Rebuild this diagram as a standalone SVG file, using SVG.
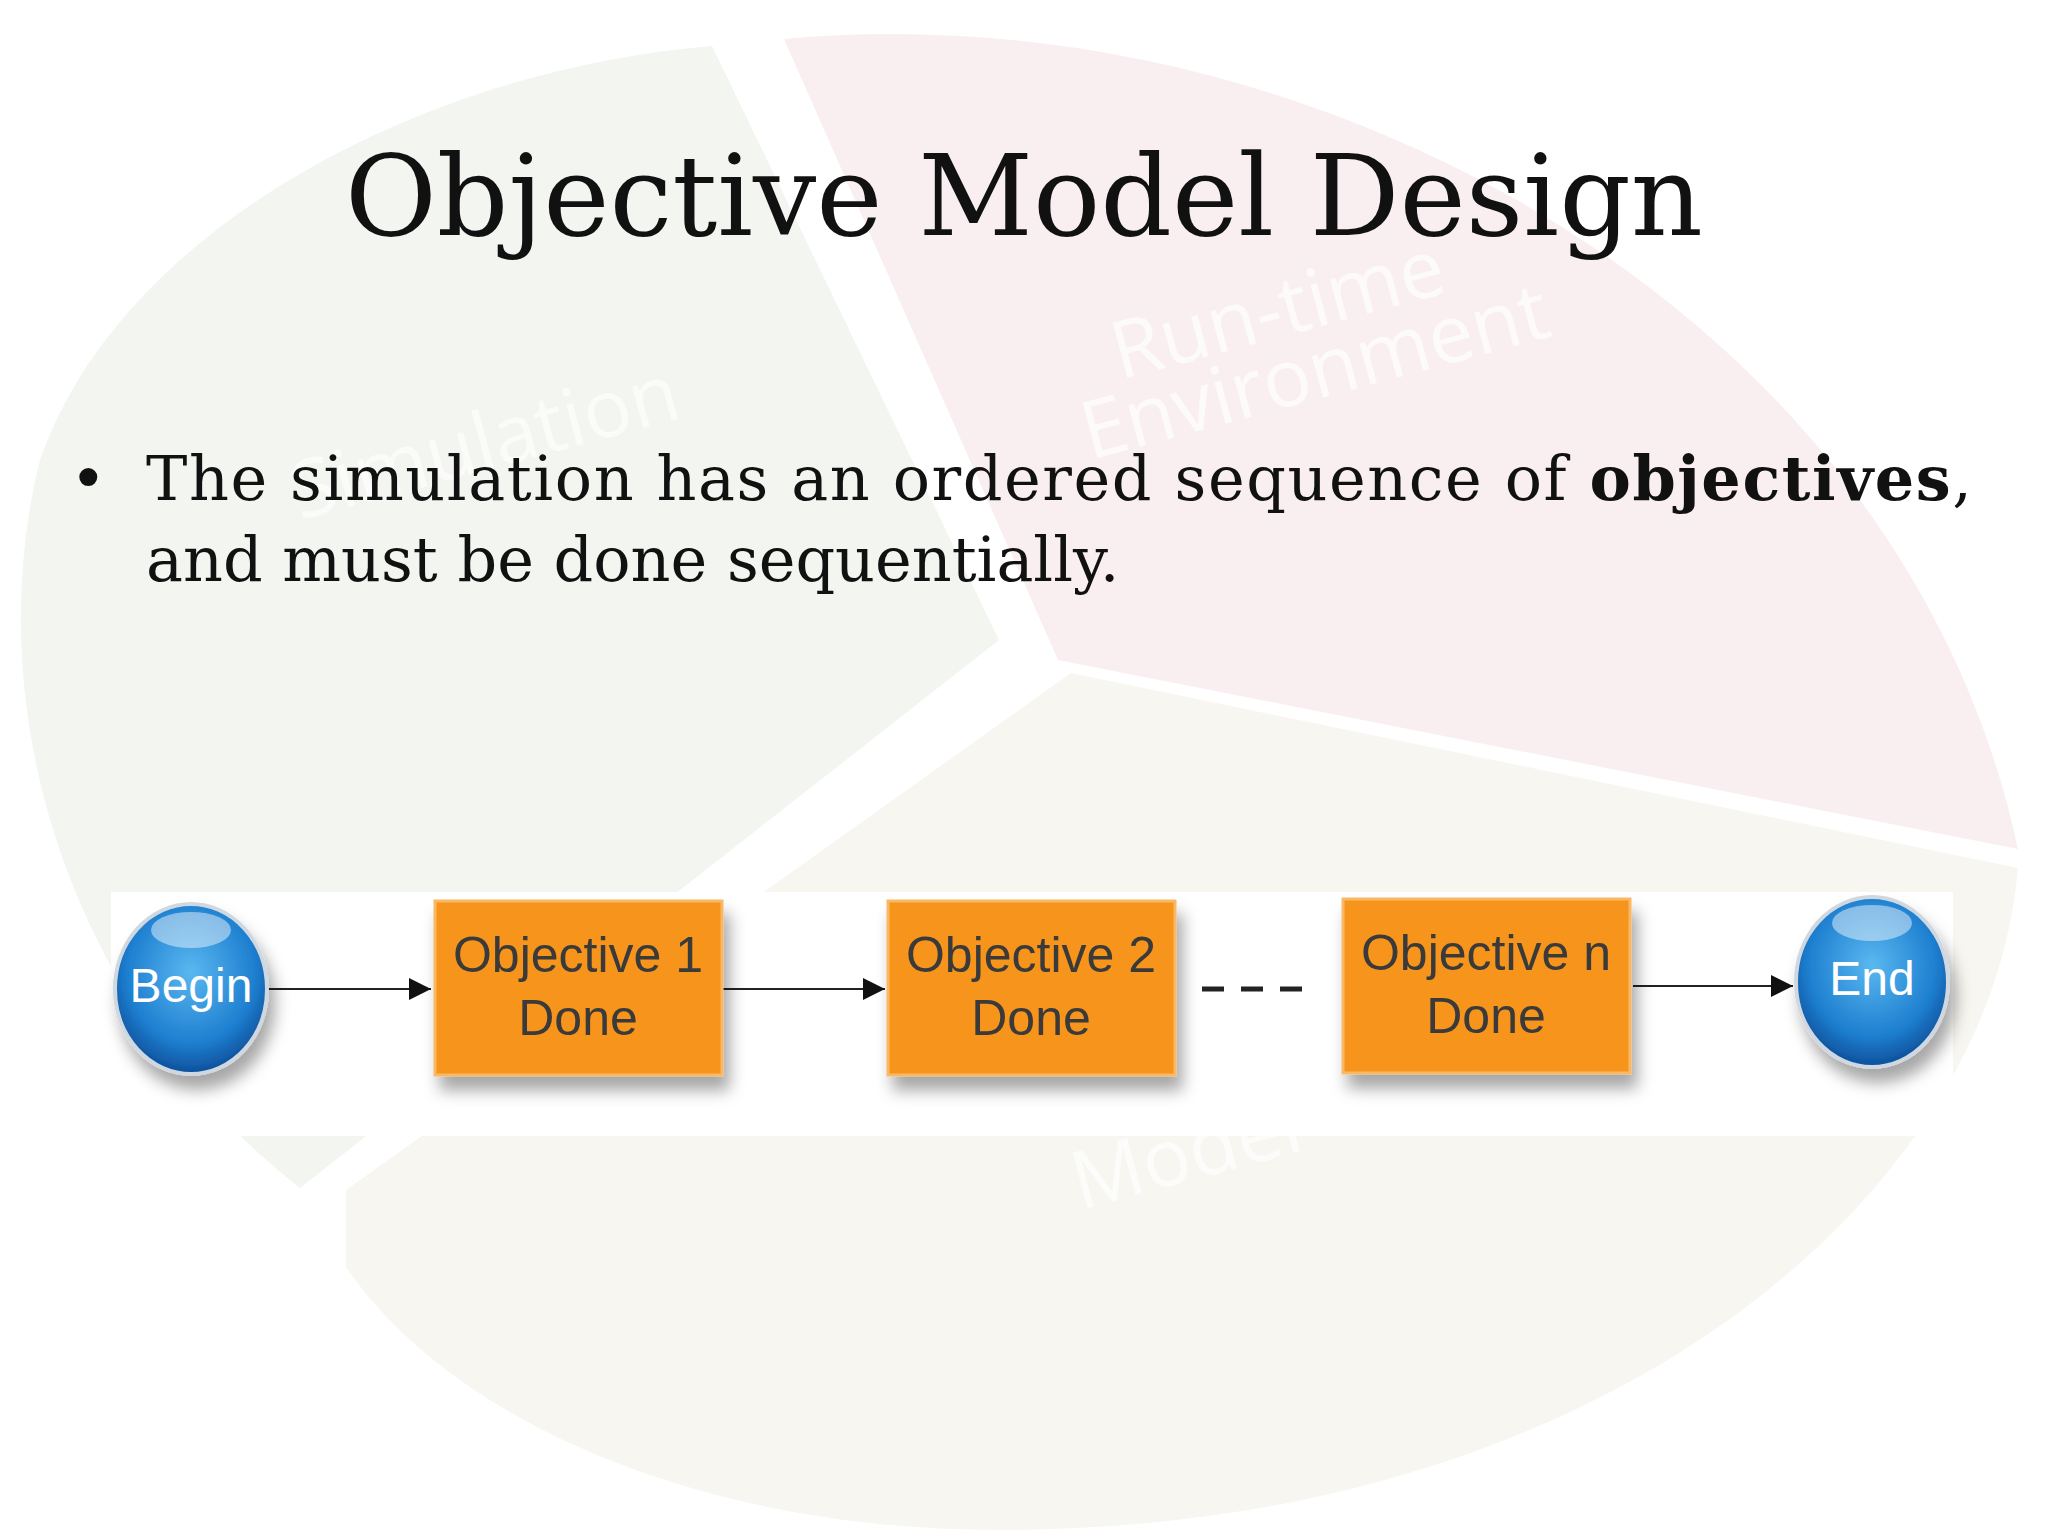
<svg xmlns="http://www.w3.org/2000/svg" width="2048" height="1536" viewBox="0 0 2048 1536">
<defs>
<style>
.serif{font-family:"DejaVu Serif","Liberation Serif",serif;fill:#111}
.box{fill:#f7941d;stroke:#f9b866;stroke-width:3}
.lbl{font-family:"Liberation Sans",Arial,sans-serif;font-size:50px;fill:#3a3a3a;text-anchor:middle}
.clbl{font-family:"Liberation Sans",Arial,sans-serif;font-size:48px;fill:#fff;text-anchor:middle}
.conn{stroke:#222;stroke-width:2;fill:none}
.ghost{font-family:"Open Sans","DejaVu Sans",sans-serif;font-size:80px;fill:#fff;opacity:0.7}
</style>
<marker id="ah" viewBox="0 0 10 10" refX="10" refY="5" markerWidth="22" markerHeight="22" markerUnits="userSpaceOnUse" orient="auto"><path d="M0,0L10,5L0,10z" fill="#111"/></marker>
<radialGradient id="ball" cx="50%" cy="40%" r="60%"><stop offset="0" stop-color="#5ab8f0"/><stop offset="0.7" stop-color="#1e7fd0"/><stop offset="1" stop-color="#0d4f9a"/></radialGradient>
<filter id="sh" x="-20%" y="-20%" width="140%" height="150%"><feDropShadow dx="6" dy="14" stdDeviation="8" flood-color="#000" flood-opacity="0.35"/></filter>
</defs>
<rect width="2048" height="1536" fill="#fff"/>
<g id="background">
<path d="M712,46 L999,640 L300,1188 C60,1000 -20,700 40,460 C120,230 420,70 712,46 Z" fill="#f2f5f0"/>
<path d="M784,39 C1300,-10 1900,300 2018,849 L1058,660 Z" fill="#f9eff1"/>
<path d="M1071,673 L2018,868 C1990,1200 1600,1530 1000,1530 C700,1530 450,1420 346,1267 L346,1190 Z" fill="#f7f6f1"/>
<text class="ghost" transform="translate(300,520) rotate(-15)">Simulation</text>
<text class="ghost" transform="translate(1120,380) rotate(-15)">Run-time</text>
<text class="ghost" transform="translate(1090,460) rotate(-15)">Environment</text>
<text class="ghost" transform="translate(1080,1210) rotate(-15)">Model</text>
</g>
<g id="title"><text class="serif" x="1024" y="235" font-size="112" text-anchor="middle">Objective Model Design</text></g>
<g id="bullet">
<text class="serif" x="70" y="500" font-size="62">•</text>
<text class="serif" x="146" y="500" font-size="62" textLength="1826" lengthAdjust="spacing">The simulation has an ordered sequence of <tspan font-weight="bold">objectives</tspan>,</text>
<text class="serif" x="146" y="581" font-size="62">and must be done sequentially.</text>
</g>
<rect x="111" y="892" width="1842" height="244" fill="#fff"/>
<g id="connectors">
<line class="conn" x1="268" y1="989" x2="431" y2="989" marker-end="url(#ah)"/>
<line class="conn" x1="722" y1="989" x2="885" y2="989" marker-end="url(#ah)"/>
<line class="conn" x1="1633" y1="986" x2="1793" y2="986" marker-end="url(#ah)"/>
<line x1="1202" y1="989" x2="1306" y2="989" stroke="#222" stroke-width="5" stroke-dasharray="22,17"/>
</g>
<g id="begin"><ellipse cx="191" cy="989" rx="76" ry="85" fill="url(#ball)" stroke="#cfd8e0" stroke-width="4" filter="url(#sh)"/><ellipse cx="191" cy="930" rx="40" ry="18" fill="#fff" opacity="0.45"/><text class="clbl" x="191" y="1002">Begin</text></g>
<g id="obj1"><rect class="box" x="435" y="901" width="287" height="174" filter="url(#sh)"/><text class="lbl" x="578" y="972">Objective 1</text><text class="lbl" x="578" y="1035">Done</text></g>
<g id="obj2"><rect class="box" x="888" y="901" width="287" height="174" filter="url(#sh)"/><text class="lbl" x="1031" y="972">Objective 2</text><text class="lbl" x="1031" y="1035">Done</text></g>
<g id="objn"><rect class="box" x="1343" y="899" width="287" height="174" filter="url(#sh)"/><text class="lbl" x="1486" y="970">Objective n</text><text class="lbl" x="1486" y="1033">Done</text></g>
<g id="end"><ellipse cx="1872" cy="982" rx="76" ry="85" fill="url(#ball)" stroke="#cfd8e0" stroke-width="4" filter="url(#sh)"/><ellipse cx="1872" cy="923" rx="40" ry="18" fill="#fff" opacity="0.45"/><text class="clbl" x="1872" y="995">End</text></g>
</svg>
